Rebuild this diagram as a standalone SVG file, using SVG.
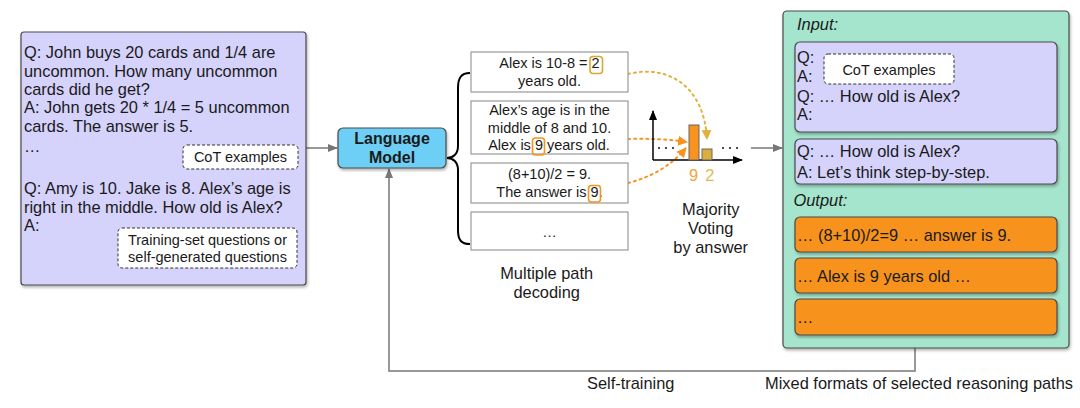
<svg xmlns="http://www.w3.org/2000/svg" width="1080" height="408" viewBox="0 0 1080 408">
<style>
text{font-family:"Liberation Sans",Arial,sans-serif;fill:#1a1a1a}
.t{font-size:16.4px}
.s{font-size:14.5px}
.m{text-anchor:middle}
.it{font-style:italic}
.lav{fill:#d5d2fb;stroke:#4a4a4a;stroke-width:1.2}
.dash{fill:#fff;stroke:#333;stroke-width:1;stroke-dasharray:3 2}
.path{fill:#fff;stroke:#999;stroke-width:1.2}
.org{fill:#f7931e;stroke:#4a4a4a;stroke-width:1.2}
.conn{fill:none;stroke:#777;stroke-width:1.5}
.dotO{fill:none;stroke:#f7931e;stroke-width:2;stroke-dasharray:2 4;stroke-linecap:round}
.dotG{fill:none;stroke:#e2b13c;stroke-width:2;stroke-dasharray:2 4;stroke-linecap:round}
.hlO{fill:none;stroke:#f7931e;stroke-width:1.6}
.hlG{fill:none;stroke:#d9a830;stroke-width:1.6}
</style>
<defs>
<filter id="sh" x="-5%" y="-5%" width="115%" height="115%">
<feDropShadow dx="1" dy="2" stdDeviation="1.5" flood-color="#000" flood-opacity="0.3"/>
</filter>
<marker id="aGray" markerWidth="10" markerHeight="8" refX="9" refY="4" orient="auto" markerUnits="userSpaceOnUse">
<path d="M0,0 L10,4 L0,8 z" fill="#777"/>
</marker>
<marker id="aBlack" markerWidth="10" markerHeight="8" refX="9" refY="4" orient="auto" markerUnits="userSpaceOnUse">
<path d="M0,0 L10,4 L0,8 z" fill="#000"/>
</marker>
<marker id="aOrg" markerWidth="10" markerHeight="10" refX="9" refY="5" orient="auto" markerUnits="userSpaceOnUse">
<path d="M0,0 L10,5 L0,10 z" fill="#f7931e"/>
</marker>
<marker id="aGold" markerWidth="10" markerHeight="10" refX="9" refY="5" orient="auto" markerUnits="userSpaceOnUse">
<path d="M0,0 L10,5 L0,10 z" fill="#e2b13c"/>
</marker>
</defs>

<g id="connectors">
<line class="conn" x1="306" y1="148" x2="337" y2="148" marker-end="url(#aGray)"/>
<polyline class="conn" points="915,348 915,371 389,371 389,169" marker-end="url(#aGray)"/>
<line class="conn" x1="751" y1="148" x2="782" y2="148" marker-end="url(#aGray)"/>
<path d="M470,73 C461,73 458,78 458,88 L458,146 C458,154 453,158 447,158 C453,158 458,162 458,170 L458,230 C458,240 461,244 470,244" fill="none" stroke="#000" stroke-width="2"/>
<path class="dotG" d="M628,74 C668,64 704,86 707,139" marker-end="url(#aGold)"/>
<path class="dotO" d="M628,139 Q660,138 687,142" marker-end="url(#aOrg)"/>
<path class="dotO" d="M628,183 Q664,174 686,148" marker-end="url(#aOrg)"/>
</g>

<g id="input-prompt">
<rect class="lav" x="21" y="32" width="285" height="253" rx="3" filter="url(#sh)"/>
<text class="t" x="24" y="58.3">Q: John buys 20 cards and 1/4 are</text>
<text class="t" x="24" y="76.6">uncommon. How many uncommon</text>
<text class="t" x="24" y="94.9">cards did he get?</text>
<text class="t" x="24" y="113.2">A: John gets 20 * 1/4 = 5 uncommon</text>
<text class="t" x="24" y="131.5">cards. The answer is 5.</text>
<text class="t" x="24" y="152">…</text>
<text class="t" x="24" y="194.3">Q: Amy is 10. Jake is 8. Alex’s age is</text>
<text class="t" x="24" y="212.6">right in the middle. How old is Alex?</text>
<text class="t" x="24" y="230.9">A:</text>
</g>
<g id="cot-label-left">
<rect class="dash" x="183" y="145" width="115" height="24" rx="4"/>
<text class="s m" x="240.5" y="162">CoT examples</text>
</g>
<g id="training-label">
<rect class="dash" x="118" y="228" width="179" height="40" rx="4"/>
<text class="s m" x="207.5" y="244.5">Training-set questions or</text>
<text class="s m" x="207.5" y="262">self-generated questions</text>
</g>

<g id="language-model">
<rect x="338" y="128" width="108" height="40" rx="5" fill="#6dcff6" stroke="#4a4a4a" stroke-width="1.2" filter="url(#sh)"/>
<text class="m" x="392" y="144.3" style="font-size:16px;font-weight:bold">Language</text>
<text class="m" x="392" y="163.3" style="font-size:16px;font-weight:bold">Model</text>
</g>

<g id="path1">
<rect class="path" x="471" y="52" width="157" height="40"/>
<text class="s m" x="549.5" y="68.3">Alex is 10-8 = 2</text>
<text class="s m" x="549.5" y="85.7">years old.</text>
<rect class="hlG" x="590" y="56.5" width="12.5" height="17" rx="3"/>
</g>
<g id="path2">
<rect class="path" x="471" y="101" width="157" height="53"/>
<text class="s m" x="549.5" y="115">Alex’s age is in the</text>
<text class="s m" x="549.5" y="132.7">middle of 8 and 10.</text>
<text class="s m" x="549" y="150">Alex is 9 years old.</text>
<rect class="hlO" x="532.5" y="138" width="12" height="17" rx="3"/>
</g>
<g id="path3">
<rect class="path" x="471" y="163" width="157" height="40"/>
<text class="s m" x="549.5" y="179.3">(8+10)/2 = 9.</text>
<text class="s m" x="549.5" y="196.7">The answer is 9.</text>
<rect class="hlO" x="588.5" y="185.5" width="12" height="16.5" rx="3"/>
</g>
<g id="path4">
<rect class="path" x="471" y="212" width="157" height="38"/>
<text class="s m" x="549.5" y="236.7">…</text>
</g>
<g id="decoding-label">
<text class="t m" x="546.7" y="279.3">Multiple path</text>
<text class="t m" x="546.7" y="298.3">decoding</text>
</g>

<g id="voting-chart">
<line x1="653" y1="160" x2="653" y2="111" stroke="#000" stroke-width="1.5" marker-end="url(#aBlack)"/>
<line x1="653" y1="160" x2="742" y2="160" stroke="#000" stroke-width="1.5" marker-end="url(#aBlack)"/>
<rect x="689" y="125" width="10" height="35" fill="#f7931e" stroke="#666" stroke-width="1"/>
<rect x="702" y="149" width="10" height="11" fill="#dcae3a" stroke="#666" stroke-width="1"/>
<circle cx="659" cy="148" r="1.1" fill="#222"/>
<circle cx="666" cy="148" r="1.1" fill="#222"/>
<circle cx="673" cy="148" r="1.1" fill="#222"/>
<circle cx="723" cy="148" r="1.1" fill="#222"/>
<circle cx="730" cy="148" r="1.1" fill="#222"/>
<circle cx="737" cy="148" r="1.1" fill="#222"/>
<text class="t m" x="693.5" y="181" style="fill:#f7a23a">9</text>
<text class="t m" x="709.7" y="181" style="fill:#e2b850">2</text>
<text class="t m" x="710.7" y="215">Majority</text>
<text class="t m" x="710.7" y="234.3">Voting</text>
<text class="t m" x="710.7" y="253.3">by answer</text>
</g>

<g id="mixed-formats">
<rect x="783" y="11" width="286" height="337" rx="4" fill="#a5e5cd" stroke="#4a4a4a" stroke-width="1.2" filter="url(#sh)"/>
<text class="t it" x="797" y="30">Input:</text>
<rect class="lav" x="795" y="42" width="262" height="90" rx="5" filter="url(#sh)"/>
<text class="t" x="797" y="63.3">Q:</text>
<text class="t" x="797" y="81.7">A:</text>
<text class="t" x="797" y="101.7">Q: … How old is Alex?</text>
<text class="t" x="797" y="120">A:</text>
<rect class="dash" x="824" y="54" width="130" height="30" rx="4"/>
<text class="s m" x="889" y="75">CoT examples</text>
<rect class="lav" x="795" y="139" width="262" height="45" rx="5" filter="url(#sh)"/>
<text class="t" x="797" y="157">Q: … How old is Alex?</text>
<text class="t" x="797" y="177.5">A: Let’s think step-by-step.</text>
<text class="t it" x="793.5" y="206">Output:</text>
<rect class="org" x="795" y="217" width="262" height="35" rx="5" filter="url(#sh)"/>
<text class="t" x="797" y="241">… (8+10)/2=9 … answer is 9.</text>
<rect class="org" x="795" y="258" width="262" height="35" rx="5" filter="url(#sh)"/>
<text class="t" x="797" y="281.7">… Alex is 9 years old …</text>
<rect class="org" x="795" y="299" width="262" height="36" rx="5" filter="url(#sh)"/>
<text class="t" x="797" y="323.3">…</text>
</g>

<g id="bottom-labels">
<text class="t m" x="630.7" y="389">Self-training</text>
<text class="t" x="1073" y="389" style="text-anchor:end">Mixed formats of selected reasoning paths</text>
</g>
</svg>
